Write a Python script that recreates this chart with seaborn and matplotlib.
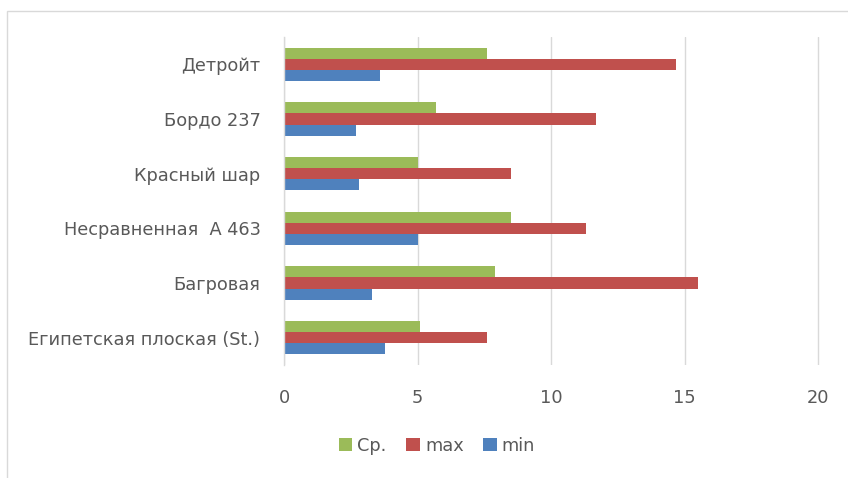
import matplotlib
matplotlib.use("Agg")
import matplotlib.pyplot as plt
import seaborn as sns
import pandas as pd
from matplotlib.patches import Rectangle

# Varieties and their measured values
categories = [
    "Детройт",
    "Бордо 237",
    "Красный шар",
    "Несравненная  А 463",
    "Багровая",
    "Египетская плоская (St.)",
]
series_names = ["Ср.", "max", "min"]
avg_vals = [7.6, 5.7, 5.0, 8.5, 7.9, 5.1]
max_vals = [14.7, 11.7, 8.5, 11.3, 15.5, 7.6]
min_vals = [3.6, 2.7, 2.8, 5.0, 3.3, 3.8]
x_ticks = [0, 5, 10, 15, 20]
colors = ["#9BBB59", "#C0504D", "#4F81BD"]

rows = []
for name, vals in zip(series_names, [avg_vals, max_vals, min_vals]):
    for cat, v in zip(categories, vals):
        rows.append({"cat": cat, "series": name, "value": v})
df = pd.DataFrame(rows)

sns.set_style("white")
plt.rcParams["font.family"] = ["DejaVu Sans"]
text_color = "#595959"
fs = 12.8

x_max = 20.1
px_per_unit = (818 - 284) / 20
fig = plt.figure(figsize=(8.48, 4.78), dpi=100)
ax = fig.add_axes([284 / 848, 1 - 365 / 478, x_max * px_per_unit / 848, (365 - 37) / 478])

sns.barplot(
    data=df, y="cat", x="value", hue="series",
    order=categories, hue_order=series_names,
    palette=colors, orient="h", width=0.61,
    saturation=1, errorbar=None, ax=ax, legend=True, linewidth=0,
)

ax.set_xlim(0, x_max)
ax.set_xticks(x_ticks)
ax.set_xticklabels([str(t) for t in x_ticks])
ax.set_xlabel("")
ax.set_ylabel("")
ax.grid(axis="x", color="#D9D9D9", linewidth=1)
ax.set_axisbelow(True)
for side in ["top", "right", "bottom"]:
    ax.spines[side].set_visible(False)
ax.spines["left"].set_color("#D9D9D9")
ax.spines["left"].set_linewidth(1)
ax.tick_params(axis="x", length=0, pad=17, labelsize=fs, labelcolor=text_color)
ax.tick_params(axis="y", length=0, pad=17, labelsize=fs, labelcolor=text_color)

handles, labels = ax.get_legend_handles_labels()
ax.get_legend().remove()
fig.legend(
    handles, labels, loc="center", bbox_to_anchor=(437 / 848, 1 - 446 / 478),
    ncol=3, frameon=False, fontsize=fs, labelcolor=text_color,
    handlelength=0.75, handleheight=0.75, handletextpad=0.3, columnspacing=1.1,
)

# chart frame
fig.patches.append(Rectangle((7 / 848, -0.05), 1.0, 1 - 11 / 478 + 0.05,
                             transform=fig.transFigure, fill=False,
                             edgecolor="#D9D9D9", linewidth=1))

fig.savefig("out.png", dpi=100, facecolor="white")
